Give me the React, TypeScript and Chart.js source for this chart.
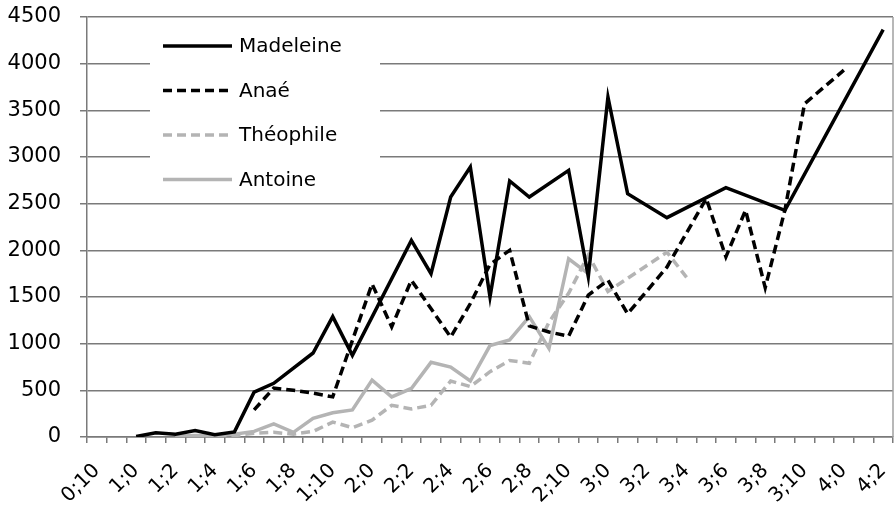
import React, { useEffect, useRef } from "react";
import { Chart, registerables } from "chart.js";

Chart.register(...registerables);

const categories = [
  "0;10", "0;11",
  "1;0", "1;1", "1;2", "1;3", "1;4", "1;5", "1;6", "1;7", "1;8", "1;9", "1;10", "1;11",
  "2;0", "2;1", "2;2", "2;3", "2;4", "2;5", "2;6", "2;7", "2;8", "2;9", "2;10", "2;11",
  "3;0", "3;1", "3;2", "3;3", "3;4", "3;5", "3;6", "3;7", "3;8", "3;9", "3;10", "3;11",
  "4;0", "4;1", "4;2",
];

const seriesNames = ["Madeleine", "Anaé", "Théophile", "Antoine"];

const madeleine = [
  null, null,
  5, 45, 30, 70, 25, 55, 480, 575, null, 900, 1290, 875,
  null, null, 2107, 1750, 2571, 2893, 1500, 2743, 2571, null, 2857, 1720,
  3643, 2607, null, 2350, null, null, 2671, null, null, 2429, null, null,
  null, null, 4365,
];

const anae = [
  null, null,
  null, null, null, null, null, null, 290, 525, 500, 470, 430, null,
  1640, 1180, 1680, null, 1070, 1430, 1850, 2000, 1190, 1125, 1080, 1520,
  1680, 1320, null, 1820, null, 2555, 1930, 2430, 1600, 2430, 3570, null,
  3930, null, null,
];

const theophile = [
  null, null,
  null, null, 0, 10, 20, 15, 40, 50, 30, 60, 160, 100,
  180, 340, 300, 340, 600, 540, 700, 820, 790, 1230, 1540, 1950,
  1560, null, null, 1980, 1710, null, null, null, null, null, null, null,
  null, null, null,
];

const antoine = [
  null, null,
  null, null, 10, 15, 20, 30, 60, 140, 50, 200, 260, 290,
  610, 430, 520, 800, 750, 600, 980, 1040, 1290, 950, 1910, 1750,
  null, null, null, null, null, null, null, null, null, null, null, null,
  null, null, null,
];

const yTicks = [0, 500, 1000, 1500, 2000, 2500, 3000, 3500, 4000, 4500];

const FONT = "'DejaVu Sans', Verdana, sans-serif";
const BLACK = "#000000";
const GREY = "#b4b4b4";
const GRID = "#7a7a7a";

const legendPlugin = {
  id: "insideLegend",
  afterDatasetsDraw(chart: any) {
    const ctx = chart.ctx;
    ctx.save();
    ctx.fillStyle = "#ffffff";
    ctx.fillRect(150, 24, 230, 174);
    chart.data.datasets.forEach((ds: any, i: number) => {
      const y = 46 + i * 44.5;
      ctx.beginPath();
      ctx.strokeStyle = ds.borderColor;
      ctx.lineWidth = ds.borderWidth;
      ctx.setLineDash(ds.borderDash || []);
      ctx.moveTo(163, y);
      ctx.lineTo(232, y);
      ctx.stroke();
      ctx.setLineDash([]);
      ctx.fillStyle = "#000";
      ctx.font = `20px ${FONT}`;
      ctx.textBaseline = "middle";
      ctx.textAlign = "left";
      ctx.fillText(ds.label, 239, y + 1);
    });
    ctx.restore();
  },
};

const borderPlugin = {
  id: "rightBorder",
  beforeDatasetsDraw(chart: any) {
    const { ctx, chartArea } = chart;
    ctx.save();
    ctx.strokeStyle = "#a0a0a0";
    ctx.lineWidth = 1.5;
    ctx.beginPath();
    ctx.moveTo(chartArea.right, chartArea.top);
    ctx.lineTo(chartArea.right, chartArea.bottom);
    ctx.stroke();
    ctx.restore();
  },
};

export default function App() {
  const ref = useRef<HTMLCanvasElement | null>(null);

  useEffect(() => {
    if (!ref.current) return;
    const mk = (label: string, data: any[], color: string, dash: number[] | undefined) => ({
      label,
      data,
      borderColor: color,
      backgroundColor: color,
      borderWidth: 3.5,
      borderDash: dash,
      borderCapStyle: "butt" as const,
      borderJoinStyle: "miter" as const,
      pointRadius: 0,
      pointHoverRadius: 0,
      tension: 0,
      spanGaps: true,
      fill: false,
    });
    const chart = new Chart(ref.current, {
      type: "line",
      data: {
        labels: categories,
        datasets: [
          mk(seriesNames[0], madeleine, BLACK, undefined),
          mk(seriesNames[1], anae, BLACK, [9, 5]),
          mk(seriesNames[2], theophile, GREY, [9, 5]),
          mk(seriesNames[3], antoine, GREY, undefined),
        ],
      },
      options: {
        animation: false,
        responsive: true,
        maintainAspectRatio: false,
        layout: { padding: { top: 17, right: 3, left: 0, bottom: 0 } },
        plugins: {
          legend: { display: false },
          tooltip: { enabled: false },
        },
        scales: {
          x: {
            type: "category",
            offset: true,
            grid: {
              offset: true,
              drawOnChartArea: false,
              drawTicks: true,
              tickLength: 6,
              color: GRID,
              lineWidth: 1.5,
            },
            border: { color: GRID, width: 1.5 },
            ticks: {
              autoSkip: false,
              minRotation: 45,
              maxRotation: 45,
              padding: 16,
              color: "#000",
              font: { family: FONT, size: 20 },
              callback: (_v: any, i: number) => (i % 2 === 0 ? categories[i] : ""),
            },
            afterFit: (s: any) => {
              s.height = 82;
              s.paddingLeft = 0;
              s.paddingRight = 0;
            },
          },
          y: {
            min: 0,
            max: 4500,
            afterBuildTicks: (s: any) => {
              s.ticks = yTicks.map((v) => ({ value: v }));
            },
            grid: {
              color: GRID,
              lineWidth: 1.5,
              tickLength: 7,
            },
            border: { color: GRID, width: 1.5 },
            ticks: {
              padding: 19,
              color: "#000",
              font: { family: FONT, size: 21 },
              callback: (v: any) => String(v),
            },
            afterFit: (s: any) => {
              s.width = 87;
              s.paddingTop = 0;
              s.paddingBottom = 0;
            },
          },
        },
      },
      plugins: [borderPlugin, legendPlugin],
    });
    return () => chart.destroy();
  }, []);

  return (
    <div style={{ position: "fixed", left: 0, top: 0, width: 896, height: 519, background: "#fff" }}>
      <canvas ref={ref} />
    </div>
  );
}
